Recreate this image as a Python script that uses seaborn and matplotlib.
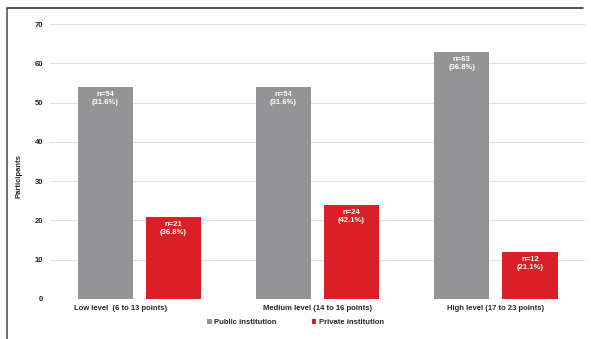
import matplotlib
matplotlib.use("Agg")
import matplotlib.pyplot as plt
import matplotlib.transforms as mtransforms
from matplotlib.lines import Line2D
from matplotlib.patches import Patch
import seaborn as sns
import pandas as pd

categories = ["Low level  (6 to 13 points)", "Medium level (14 to 16 points)", "High level (17 to 23 points)"]
series_names = ["Public institution", "Private institution"]
public_values = [54, 54, 63]
private_values = [21, 24, 12]
public_pct = ["31.6%", "31.6%", "36.8%"]
private_pct = ["36.8%", "42.1%", "21.1%"]
yticks = [0, 10, 20, 30, 40, 50, 60, 70]

colors = {"Public institution": "#949497", "Private institution": "#DA1F26"}

df = pd.DataFrame({
    "category": categories * 2,
    "institution": [series_names[0]] * 3 + [series_names[1]] * 3,
    "value": public_values + private_values,
})

sns.set_style("white")
plt.rcParams["font.family"] = ["Liberation Sans", "DejaVu Sans"]

FS = 5.5
TXT = "#262626"

fig = plt.figure(figsize=(5.91, 3.39), dpi=100)
ax = fig.add_axes([0.0846, 0.118, 0.9054, 0.811])

sns.barplot(data=df, x="category", y="value", hue="institution", order=categories,
            hue_order=series_names, palette=colors, width=0.764, gap=0.19,
            saturation=1, ax=ax, legend=False, edgecolor="none")

labels_by_series = [
    [f"n={v}\n({p})" for v, p in zip(public_values, public_pct)],
    [f"n={v}\n({p})" for v, p in zip(private_values, private_pct)],
]
for cont, labs in zip(ax.containers, labels_by_series):
    for bar, lab in zip(cont, labs):
        ax.annotate(lab, (bar.get_x() + bar.get_width() / 2, bar.get_height()),
                    xytext=(0, -3), textcoords="offset points", ha="center", va="top",
                    color="white", fontsize=FS, fontweight="bold", linespacing=1.25)

ax.set_xlim(-0.5, 2.5)
ax.set_ylim(0, 70)
ax.set_yticks(yticks)
ax.set_yticklabels([str(t) for t in yticks], fontsize=FS, fontweight="bold", color=TXT)
ax.set_xticks(range(3))
ax.set_xticklabels(categories, fontsize=FS, fontweight="bold", color=TXT)
ax.tick_params(axis="x", length=0, pad=4)
ax.tick_params(axis="y", length=0, pad=5)
ax.set_xlabel("")
ax.set_ylabel("Participants", fontsize=FS, fontweight="bold", color=TXT, labelpad=7)
ax.yaxis.set_label_coords(-0.052, 0.447)
ax.yaxis.grid(True, color="#DDE2EA", linewidth=0.8)
ax.set_axisbelow(True)
for s in ax.spines.values():
    s.set_visible(False)

# first category label sits left of its group in the original
first = ax.get_xticklabels()[0]
first.set_transform(first.get_transform() + mtransforms.ScaledTranslation(-0.19, 0, fig.dpi_scale_trans))

handles = [Patch(facecolor=colors[n], edgecolor="none") for n in series_names]
fig.legend(handles, series_names, loc="center", bbox_to_anchor=(0.5, 0.048), ncol=2,
           frameon=False, prop={"size": FS, "weight": "bold"}, handlelength=0.6,
           handleheight=0.6, handletextpad=0.3, columnspacing=4.6, labelcolor=TXT)

fig.add_artist(Line2D([0.012, 0.986], [0.976, 0.976], transform=fig.transFigure, color="#333333", linewidth=1.2))
fig.add_artist(Line2D([0.012, 0.012], [0.976, 0.0], transform=fig.transFigure, color="#555555", linewidth=1.2))

fig.savefig("out.png", dpi=100)
